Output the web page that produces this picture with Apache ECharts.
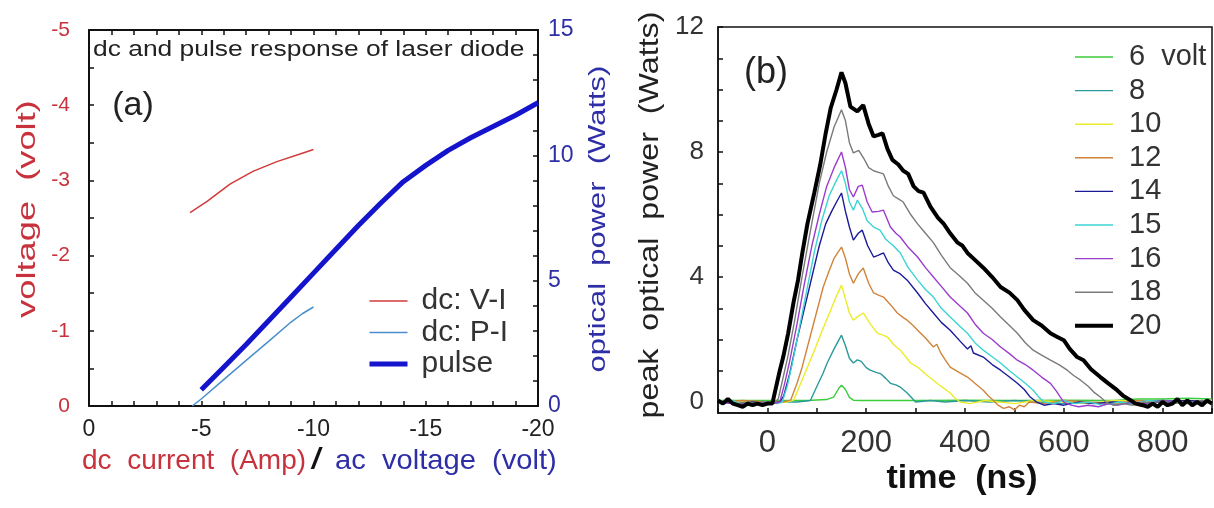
<!DOCTYPE html>
<html>
<head>
<meta charset="utf-8">
<script src="https://cdn.jsdelivr.net/npm/echarts@6/dist/echarts.min.js"></script>
<style>
  html, body { margin: 0; padding: 0; background: #fff; }
  #main { width: 1214px; height: 508px; }
</style>
</head>
<body>
<div id="main"></div>
<script>
// ---- panel (a): dc current / ac voltage ----
const dcVI = [[-4.5, -2.57], [-5.26, -2.72], [-6.28, -2.95], [-7.3, -3.12], [-8.37, -3.25], [-9.4, -3.35], [-10, -3.41]];
const dcPI = [[-4.6, 0], [-5, 0.28], [-6, 1.05], [-7, 1.82], [-8, 2.58], [-9, 3.35], [-9.5, 3.68], [-10, 3.95]];
const pulse = [[-5, 0.65], [-6, 1.55], [-7, 2.45], [-8, 3.4], [-9, 4.35], [-10, 5.3], [-11, 6.25], [-12, 7.2],
  [-13, 8.1], [-14, 8.95], [-15, 9.6], [-16, 10.2], [-17, 10.7], [-18, 11.15], [-19, 11.6], [-20, 12.1]];

const currentLabels = [0, -5, -10, -15, -20];
const voltLabels = [0, -1, -2, -3, -4, -5];
const powerLabelsA = [0, 5, 10, 15];

// ---- panel (b): peak optical power vs time (ns) ----
const v6 = [[-100, 0.05], [50, 0.05], [80, 0.05], [120, 0.08], [134, 0.16], [145, 0.45], [150, 0.54], [158, 0.4], [166, 0.15],
  [174, 0.06], [190, 0.05], [300, 0.05], [400, 0.06], [500, 0.05], [600, 0.06], [700, 0.05], [750, 0.1], [800, 0.1], [850, 0.12], [900, 0.1]];
const v8 = [[-100, 0], [0, 0], [60, 0], [87, 0.05], [100, 0.5], [112, 0.9], [121, 1.25], [135, 1.7], [145, 2.0], [150, 2.14],
  [158, 1.8], [166, 1.4], [174, 1.25], [182, 1.35], [190, 1.3], [200, 1.1], [208, 1.02], [220, 0.95], [230, 0.9], [240, 0.75],
  [249, 0.6], [260, 0.55], [269, 0.48], [283, 0.29], [293, 0.12], [300, 0], [330, 0.05], [360, 0], [400, 0.05], [450, 0],
  [500, 0.05], [550, 0], [600, -0.05], [700, 0], [800, 0.05], [900, 0]];
const v10 = [[-100, 0], [0, 0], [40, 0], [53, 0.06], [70, 0.7], [93, 1.57], [110, 2.25], [128, 2.94], [140, 3.4], [150, 3.74],
  [158, 3.3], [166, 2.85], [174, 2.62], [184, 2.75], [194, 2.85], [208, 2.5], [223, 2.2], [233, 2.15], [243, 2.08], [255, 1.85],
  [269, 1.66], [280, 1.45], [290, 1.25], [304, 1.12], [320, 0.9], [336, 0.7], [352, 0.5], [370, 0.29], [380, 0.12], [390, 0],
  [410, -0.05], [440, 0.05], [470, 0], [500, -0.05], [540, 0.05], [600, 0], [650, -0.05], [700, 0.05], [800, 0], [900, 0.05]];
const v12 = [[-100, 0], [-50, 0.05], [0, 0], [30, 0], [47, 0.06], [60, 0.6], [70, 1.1], [81, 1.76], [95, 2.6], [105, 3.2],
  [113, 3.68], [125, 4.2], [135, 4.6], [142, 4.77], [150, 4.96], [158, 4.6], [166, 4.1], [174, 3.8], [184, 4.1], [194, 4.29],
  [205, 3.8], [215, 3.49], [225, 3.42], [235, 3.36], [250, 3.1], [263, 2.85], [275, 2.7], [283, 2.62], [295, 2.45], [304, 2.3],
  [320, 2.05], [336, 1.76], [343, 1.85], [350, 1.6], [360, 1.35], [370, 1.12], [388, 0.95], [405, 0.8], [420, 0.6], [437, 0.38],
  [447, 0.2], [457, 0.06], [467, -0.1], [478, -0.2], [490, -0.15], [500, -0.25], [510, -0.1], [520, -0.15], [530, 0], [560, -0.05],
  [600, 0.05], [650, 0], [700, -0.05], [750, 0.05], [800, 0], [850, -0.05], [900, 0]];
const v14 = [[-100, 0], [-60, -0.05], [-30, 0], [0, -0.05], [25, 0], [33, 0.2], [45, 0.9], [60, 2.0], [75, 3.0], [90, 4.0],
  [105, 5.0], [118, 5.7], [130, 6.1], [140, 6.4], [150, 6.69], [158, 6.1], [166, 5.6], [174, 5.18], [184, 5.4], [192, 5.5],
  [203, 5.0], [215, 4.64], [225, 4.7], [235, 4.77], [245, 4.45], [255, 4.22], [269, 4.1], [283, 3.9], [304, 3.49], [320, 3.15],
  [336, 2.85], [352, 2.55], [370, 2.3], [390, 1.95], [405, 1.7], [412, 1.8], [417, 1.57], [437, 1.44], [455, 1.2], [472, 1.02],
  [490, 0.8], [506, 0.6], [520, 0.4], [532, 0.16], [545, 0], [560, -0.1], [580, -0.05], [600, -0.1], [630, 0], [660, -0.05],
  [700, 0], [740, -0.05], [800, 0], [850, 0.05], [900, 0]];
const v15 = [[-100, 0], [-70, 0.05], [-50, -0.1], [-30, -0.05], [0, 0], [20, -0.05], [30, 0], [40, 0.5], [50, 1.2], [65, 2.4],
  [80, 3.6], [95, 4.8], [110, 5.8], [125, 6.6], [140, 7.1], [150, 7.4], [158, 7.0], [166, 6.4], [174, 6.14], [182, 6.46],
  [192, 6.2], [202, 5.8], [215, 5.6], [228, 5.5], [240, 5.2], [255, 5.0], [269, 4.77], [285, 4.3], [304, 3.9], [320, 3.6],
  [336, 3.36], [352, 3.0], [370, 2.72], [388, 2.45], [405, 2.2], [420, 1.9], [437, 1.66], [455, 1.45], [472, 1.25], [490, 1.0],
  [506, 0.8], [522, 0.6], [538, 0.38], [550, 0.15], [560, 0], [580, -0.05], [600, 0.05], [620, -0.05], [650, 0], [680, -0.1],
  [710, 0], [740, -0.05], [770, 0.05], [800, 0], [850, -0.05], [900, 0]];
const v16 = [[-100, 0], [-70, -0.05], [-40, -0.1], [-10, 0], [10, -0.05], [25, 0], [35, 0.6], [45, 1.3], [60, 2.5], [75, 3.8],
  [90, 5.0], [105, 6.0], [120, 6.9], [135, 7.5], [150, 8.0], [158, 7.5], [166, 6.8], [174, 6.56], [184, 6.9], [192, 6.94],
  [202, 6.4], [212, 6.08], [225, 6.1], [235, 6.14], [249, 5.6], [260, 5.4], [269, 5.28], [285, 4.95], [304, 4.64], [320, 4.3],
  [336, 4.0], [352, 3.7], [370, 3.36], [388, 3.1], [405, 2.85], [420, 2.5], [437, 2.2], [455, 2.0], [472, 1.76], [490, 1.55],
  [506, 1.34], [522, 1.2], [538, 1.02], [555, 0.8], [573, 0.6], [585, 0.35], [593, 0.16], [600, 0], [615, -0.1], [630, -0.15],
  [650, -0.1], [670, -0.15], [690, -0.05], [710, -0.1], [740, 0], [770, -0.05], [800, 0.05], [830, 0], [860, -0.05], [900, 0]];
const v18 = [[-100, 0], [-80, 0.05], [-60, -0.05], [-40, 0], [-20, -0.05], [0, 0], [15, 0], [22, 0.1], [32, 0.8], [42, 1.5],
  [55, 2.6], [70, 4.0], [85, 5.3], [105, 7.0], [120, 8.0], [135, 8.8], [150, 9.35], [158, 9.0], [166, 8.3], [174, 7.97],
  [185, 8.05], [195, 7.8], [205, 7.5], [215, 7.4], [225, 7.35], [235, 7.3], [245, 6.9], [255, 6.6], [265, 6.5], [275, 6.4],
  [290, 6.0], [304, 5.7], [320, 5.4], [336, 5.1], [352, 4.7], [370, 4.3], [388, 4.05], [405, 3.8], [420, 3.5], [437, 3.26],
  [455, 3.0], [472, 2.72], [490, 2.45], [506, 2.2], [522, 1.9], [538, 1.66], [555, 1.5], [573, 1.34], [590, 1.2], [607, 1.02],
  [620, 0.85], [634, 0.7], [650, 0.5], [662, 0.3], [674, 0.16], [685, 0], [700, -0.1], [720, -0.05], [740, -0.1], [760, 0],
  [780, -0.05], [800, 0.05], [820, -0.05], [840, 0], [860, -0.05], [880, 0.05], [900, 0]];
const v20 = [[-100, 0.05], [-90, -0.05], [-80, 0.1], [-70, -0.05], [-60, -0.1], [-50, -0.15], [-40, -0.05], [-30, -0.1],
  [-20, -0.05], [-10, -0.1], [0, -0.05], [10, -0.05], [15, 0.3], [25, 1.0], [32, 1.44], [42, 2.2], [53, 3.2], [62, 3.9],
  [71, 4.8], [81, 5.7], [95, 6.7], [107, 7.6], [118, 8.6], [128, 9.4], [140, 10.0], [150, 10.55], [158, 10.2], [168, 9.45],
  [182, 9.3], [194, 9.5], [205, 8.9], [215, 8.5], [225, 8.55], [233, 8.6], [243, 8.1], [253, 7.75], [265, 7.6], [275, 7.4],
  [285, 7.3], [296, 6.9], [306, 6.75], [316, 6.7], [330, 6.25], [345, 5.9], [357, 5.7], [370, 5.4], [385, 5.1], [395, 5.0],
  [405, 4.77], [420, 4.55], [437, 4.3], [455, 4.0], [472, 3.68], [490, 3.5], [506, 3.26], [520, 2.95], [538, 2.62], [555, 2.45],
  [573, 2.2], [585, 2.1], [600, 1.98], [612, 1.7], [627, 1.44], [640, 1.34], [655, 1.05], [674, 0.8], [690, 0.6], [708, 0.38],
  [720, 0.2], [735, 0.06], [745, -0.05], [760, -0.1], [770, -0.15], [780, -0.05], [790, -0.15], [800, 0], [810, -0.1],
  [820, -0.05], [830, 0.1], [840, -0.1], [850, 0.05], [860, -0.1], [870, 0], [880, -0.1], [890, 0.05], [900, -0.05]];

const pulseNames = ['6  volt', '8', '10', '12', '14', '15', '16', '18', '20'];
const pulseSets = [v6, v8, v10, v12, v14, v15, v16, v18, v20];
const timeLabels = [0, 200, 400, 600, 800];
const powerLabelsB = [0, 4, 8, 12];

// styles
const pulseColors = ['#3ccc3c', '#2a9a9a', '#ecec2a', '#d0843a', '#1a1a99', '#3cd4d4', '#9b3ccc', '#7a7a7a', '#000000'];
const red = '#c8323c';
const blue = '#2e2ea6';
const font = 'Liberation Sans, Arial, sans-serif';

function range(a, b, step) {
  const out = [];
  for (let v = a; step > 0 ? v <= b + 1e-9 : v >= b - 1e-9; v += step) out.push(+v.toFixed(4));
  return out;
}

const chart = echarts.init(document.getElementById('main'));

const axisLineA = { show: true, onZero: false, lineStyle: { color: '#111', width: 2 } };
const axisLineB = { show: true, onZero: false, lineStyle: { color: '#111', width: 1.5 } };
const tickA = { inside: true, length: 5, lineStyle: { color: '#111', width: 1.5 } };

const option = {
  animation: false,
  backgroundColor: '#fff',
  textStyle: { fontFamily: font },
  grid: [
    { left: 89, top: 30, width: 449, height: 376, show: false },
    { left: 718, top: 27, width: 494, height: 386, show: true, borderColor: '#111', borderWidth: 1.5, backgroundColor: 'transparent' }
  ],
  xAxis: [
    {
      gridIndex: 0, type: 'value', min: -20, max: 0, inverse: true, position: 'bottom',
      axisLine: axisLineA,
      axisTick: Object.assign({ customValues: range(0, -20, -1) }, tickA),
      axisLabel: { customValues: currentLabels, fontSize: 23, color: '#222', margin: 12, fontFamily: font },
      splitLine: { show: false }
    },
    {
      gridIndex: 0, type: 'value', min: -20, max: 0, inverse: true, position: 'top',
      axisLine: axisLineA,
      axisTick: Object.assign({ customValues: range(0, -20, -1) }, tickA),
      axisLabel: { show: false },
      splitLine: { show: false }
    },
    {
      gridIndex: 1, type: 'value', min: -100, max: 900, position: 'bottom',
      axisLine: axisLineB,
      axisTick: Object.assign({ customValues: range(-100, 900, 100) }, tickA),
      axisLabel: { customValues: timeLabels, fontSize: 31, color: '#333', margin: 15, fontFamily: font },
      splitLine: { show: false }
    }
  ],
  yAxis: [
    {
      gridIndex: 0, type: 'value', min: -5, max: 0, inverse: true, position: 'left',
      axisLine: axisLineA,
      axisTick: Object.assign({ customValues: range(0, -5, -0.5) }, tickA),
      axisLabel: { customValues: voltLabels, fontSize: 21, color: red, margin: 19, fontFamily: font },
      splitLine: { show: false }
    },
    {
      gridIndex: 0, type: 'value', min: 0, max: 15, position: 'right',
      axisLine: axisLineA,
      axisTick: Object.assign({ customValues: range(0, 15, 1) }, tickA),
      axisLabel: { customValues: powerLabelsA, fontSize: 23, color: blue, margin: 10, fontFamily: font },
      splitLine: { show: false }
    },
    {
      gridIndex: 1, type: 'value', min: -0.35, max: 12, position: 'left',
      axisLine: axisLineB,
      axisTick: Object.assign({ customValues: range(0, 12, 1) }, tickA),
      axisLabel: { customValues: powerLabelsB, fontSize: 26, color: '#333', margin: 14, fontFamily: font },
      splitLine: { show: false }
    }
  ],
  legend: [
    {
      data: ['dc: V-I', 'dc: P-I', 'pulse'],
      orient: 'vertical', left: 367, top: 286, padding: 0,
      itemWidth: 38, itemHeight: 14, itemGap: 1.5,
      itemStyle: { opacity: 0 },
      lineStyle: { width: 'inherit' },
      textStyle: { fontSize: 30, lineHeight: 30, color: '#333', fontFamily: font, padding: [0, 0, 0, 9] }
    },
    {
      data: pulseNames,
      orient: 'vertical', left: 1073, top: 42, padding: 0,
      itemWidth: 38, itemHeight: 14, itemGap: 3.6,
      itemStyle: { opacity: 0 },
      lineStyle: { width: 'inherit' },
      textStyle: { fontSize: 29, lineHeight: 30, color: '#333', fontFamily: font, padding: [0, 0, 0, 11] }
    }
  ],
  graphic: [
    { type: 'text', x: 93, y: 50, scaleX: 1.2,
      style: { text: 'dc and pulse response of laser diode', font: '22px ' + font, fill: '#222', align: 'left', verticalAlign: 'middle' } },
    { type: 'text', x: 133, y: 106,
      style: { text: '(a)', font: '34px ' + font, fill: '#222', align: 'center', verticalAlign: 'middle' } },
    { type: 'text', x: 766, y: 73,
      style: { text: '(b)', font: '36px ' + font, fill: '#222', align: 'center', verticalAlign: 'middle' } },
    { type: 'text', x: 28, y: 209, rotation: Math.PI / 2, scaleX: 1.45,
      style: { text: 'voltage  (volt)', font: '25px ' + font, fill: red, align: 'center', verticalAlign: 'middle' } },
    { type: 'text', x: 598, y: 219, rotation: Math.PI / 2, scaleX: 1.29,
      style: { text: 'optical  power  (Watts)', font: '24px ' + font, fill: blue, align: 'center', verticalAlign: 'middle' } },
    { type: 'text', x: 650, y: 215, rotation: Math.PI / 2, scaleX: 1.15,
      style: { text: 'peak  optical  power  (Watts)', font: '28px ' + font, fill: '#222', align: 'center', verticalAlign: 'middle' } },
    { type: 'text', x: 82, y: 461,
      style: { text: 'dc  current  (Amp)', font: '28px ' + font, fill: red, align: 'left', verticalAlign: 'middle' } },
    { type: 'text', x: 316, y: 461,
      style: { text: '/', font: 'italic bold 30px ' + font, fill: '#111', align: 'center', verticalAlign: 'middle' } },
    { type: 'text', x: 335, y: 461, scaleX: 1.04,
      style: { text: 'ac  voltage  (volt)', font: '28px ' + font, fill: blue, align: 'left', verticalAlign: 'middle' } },
    { type: 'text', x: 962, y: 479,
      style: { text: 'time  (ns)', font: 'bold 34px ' + font, fill: '#111', align: 'center', verticalAlign: 'middle' } }
  ],
  series: [
    { name: 'dc: V-I', type: 'line', xAxisIndex: 0, yAxisIndex: 0, data: dcVI, symbol: 'none',
      lineStyle: { color: '#d23a3a', width: 1.5 }, itemStyle: { color: '#d23a3a' } },
    { name: 'dc: P-I', type: 'line', xAxisIndex: 0, yAxisIndex: 1, data: dcPI, symbol: 'none',
      lineStyle: { color: '#4a8fcc', width: 1.5 }, itemStyle: { color: '#4a8fcc' } },
    { name: 'pulse', type: 'line', xAxisIndex: 0, yAxisIndex: 1, data: pulse, symbol: 'none',
      lineStyle: { color: '#1414cc', width: 5 }, itemStyle: { color: '#1414cc' } }
  ].concat(pulseSets.map((d, i) => ({
    name: pulseNames[i], type: 'line', xAxisIndex: 2, yAxisIndex: 2, data: d, symbol: 'none',
    lineStyle: { color: pulseColors[i], width: i === pulseSets.length - 1 ? 4 : 1.4 },
    itemStyle: { color: pulseColors[i] }
  })))
};

chart.setOption(option);
</script>
</body>
</html>
